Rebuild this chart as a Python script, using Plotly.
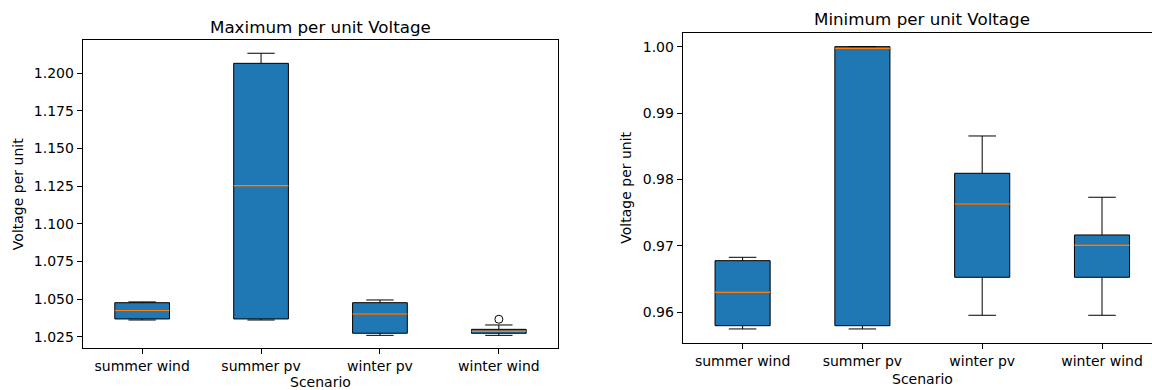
import plotly.graph_objects as go

# Scenario labels shared by both panels
scenarios = ["summer wind", "summer pv", "winter pv", "winter wind"]

# Maximum per-unit voltage: five-number summaries per scenario
vmax_lower = [1.0361, 1.0361, 1.0259, 1.0259]
vmax_q1 = [1.0368, 1.0368, 1.0273, 1.0273]
vmax_median = [1.0423, 1.1253, 1.0401, 1.0286]
vmax_q3 = [1.0476, 1.2066, 1.0476, 1.0299]
vmax_upper = [1.0481, 1.2133, 1.0494, 1.0328]
vmax_outlier_idx = [3]
vmax_outlier_val = [1.0366]

# Minimum per-unit voltage: five-number summaries per scenario
vmin_lower = [0.95749, 0.95749, 0.95955, 0.95955]
vmin_q1 = [0.95798, 0.95798, 0.96527, 0.96527]
vmin_median = [0.96301, 0.99974, 0.97631, 0.97009]
vmin_q3 = [0.96777, 1.00000, 0.98093, 0.97164]
vmin_upper = [0.96828, 1.00000, 0.98655, 0.97732]

W, H = 1152, 390
BOX_W = 0.46
BLUE = "#1f77b4"
ORANGE = "#ff7f0e"
FONT = "DejaVu Sans"

pos = list(range(len(scenarios)))

fig = go.Figure()


def add_panel(xref, yref, lower, q1, med, q3, upper):
    fig.add_trace(go.Box(
        x=pos, q1=q1, median=med, q3=q3, lowerfence=lower, upperfence=upper,
        width=BOX_W, whiskerwidth=0.5, boxpoints=False,
        fillcolor=BLUE, line=dict(color="black", width=1),
        xaxis=xref, yaxis=yref, showlegend=False, hoverinfo="skip",
    ))
    mx, my = [], []
    for p, m in zip(pos, med):
        mx += [p - BOX_W / 2, p + BOX_W / 2, None]
        my += [m, m, None]
    fig.add_trace(go.Scatter(
        x=mx, y=my, mode="lines", line=dict(color=ORANGE, width=1.4),
        xaxis=xref, yaxis=yref, showlegend=False, hoverinfo="skip",
    ))


add_panel("x", "y", vmax_lower, vmax_q1, vmax_median, vmax_q3, vmax_upper)
fig.add_trace(go.Scatter(
    x=[pos[i] for i in vmax_outlier_idx], y=vmax_outlier_val, mode="markers",
    marker=dict(symbol="circle-open", size=8, color="black", line=dict(width=1)),
    xaxis="x", yaxis="y", showlegend=False, hoverinfo="skip",
))
add_panel("x2", "y2", vmin_lower, vmin_q1, vmin_median, vmin_q3, vmin_upper)

# Panel geometry in pixels
L1, R1, T1, B1 = 82.7, 558.3, 40.0, 348.3
L2, T2, B2 = 682.7, 32.7, 342.7
SP2 = 119.8
R2_full = L2 + 4 * SP2

tickfont = dict(family=FONT, size=14, color="black")
common_x = dict(
    tickmode="array", tickvals=pos, ticktext=scenarios,
    showline=True, linecolor="black", linewidth=1, mirror=True,
    ticks="outside", ticklen=5, tickwidth=1, tickcolor="black",
    showgrid=False, zeroline=False, tickfont=tickfont,
)
common_y = dict(
    showline=True, linecolor="black", linewidth=1,
    ticks="outside", ticklen=5, tickwidth=1, tickcolor="black",
    showgrid=False, zeroline=False, tickfont=tickfont,
)

fig.update_layout(
    width=W, height=H, margin=dict(l=0, r=0, t=0, b=0),
    paper_bgcolor="white", plot_bgcolor="white",
    font=dict(family=FONT, color="black"),
    xaxis=dict(domain=[L1 / W, R1 / W], range=[-0.5, 3.5], anchor="y", **common_x),
    yaxis=dict(domain=[1 - B1 / H, 1 - T1 / H], range=[1.0173, 1.2221],
               dtick=0.025, tick0=1.0, tickformat=".3f", anchor="x",
               mirror=True, **common_y),
    xaxis2=dict(domain=[L2 / W, 1.0], range=[-0.5, -0.5 + (W - L2) / SP2],
                anchor="y2", **common_x),
    yaxis2=dict(domain=[1 - B2 / H, 1 - T2 / H], range=[0.95542, 1.0021],
                dtick=0.01, tick0=0.96, tickformat=".2f", anchor="x2",
                **common_y),
)

ann = [
    dict(text="Maximum per unit Voltage", x=(L1 + R1) / 2 / W, y=1 - 27 / H, size=16.7),
    dict(text="Minimum per unit Voltage", x=(L2 + R2_full) / 2 / W, y=1 - 18.5 / H, size=16.7),
    dict(text="Scenario", x=(L1 + R1) / 2 / W, y=1 - 382 / H, size=14),
    dict(text="Scenario", x=(L2 + R2_full) / 2 / W, y=1 - 379 / H, size=14),
]
for a in ann:
    fig.add_annotation(
        text=a["text"], xref="paper", yref="paper", x=a["x"], y=a["y"],
        xanchor="center", yanchor="middle", showarrow=False,
        font=dict(family=FONT, size=a["size"], color="black"),
    )
for xc, yc in [(18, (T1 + B1) / 2), (626, (T2 + B2) / 2)]:
    fig.add_annotation(
        text="Voltage per unit", xref="paper", yref="paper", x=xc / W, y=1 - yc / H,
        xanchor="center", yanchor="middle", showarrow=False, textangle=-90,
        font=dict(family=FONT, size=14, color="black"),
    )

fig.write_html("out.html")
